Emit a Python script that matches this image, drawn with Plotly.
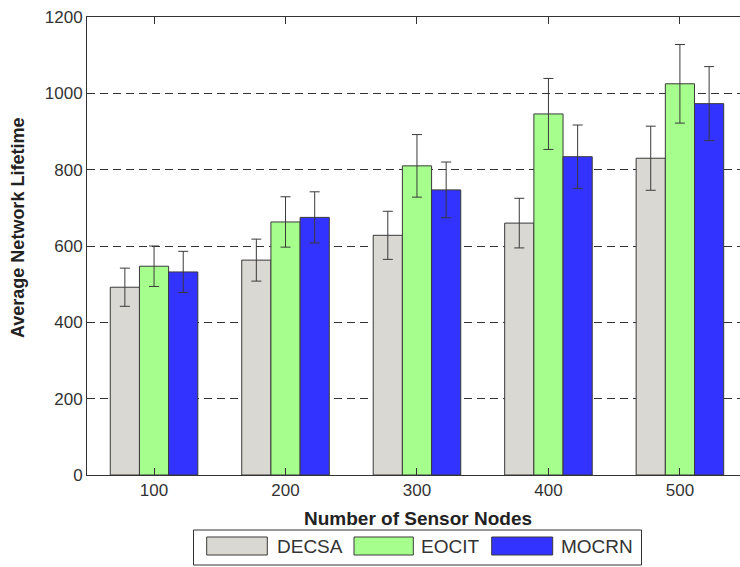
import plotly.graph_objects as go

categories = ["100", "200", "300", "400", "500"]
series_names = ["DECSA", "EOCIT", "MOCRN"]
decsa = [492, 563, 628, 660, 830]
decsa_err = [50, 55, 63, 65, 84]
eocit = [547, 663, 810, 946, 1025]
eocit_err = [53, 66, 82, 93, 103]
mocrn = [532, 675, 747, 834, 973]
mocrn_err = [54, 67, 73, 83, 97]
y_ticks = [0, 200, 400, 600, 800, 1000, 1200]

colors = ["#dad8d2", "#a6ff8c", "#3333ff"]
FONT = "Liberation Sans, Arial, sans-serif"

fig = go.Figure()
for name, vals, errs, col in zip(series_names, [decsa, eocit, mocrn],
                                 [decsa_err, eocit_err, mocrn_err], colors):
    fig.add_trace(go.Bar(
        x=categories, y=vals, name=name,
        marker=dict(color=col, line=dict(color="#3a3a3a", width=1)),
        error_y=dict(type="data", array=errs, visible=True,
                     color="#3a3a3a", thickness=1, width=5),
        showlegend=False,
    ))

W, H = 740, 567
L, T, B = 87, 17, 92
pw = W - L
ph = H - T - B

def px(x):
    return (x - L) / pw

def py(y):
    return (H - B - y) / ph

fig.update_layout(
    width=W, height=H,
    margin=dict(l=L, r=0, t=T, b=B, autoexpand=False),
    paper_bgcolor="white", plot_bgcolor="white",
    barmode="group", bargap=0.334, bargroupgap=0,
    font=dict(family=FONT, size=17, color="#333333"),
    xaxis=dict(
        type="category", range=[-0.51, 4.457],
        showline=True, linecolor="#333333", linewidth=1, mirror="ticks",
        ticks="inside", ticklen=7, tickcolor="#333333",
        showgrid=False, zeroline=False,
        tickfont=dict(size=17, color="#333333"),
    ),
    yaxis=dict(
        range=[0, 1200], tickvals=y_ticks,
        showline=True, linecolor="#333333", linewidth=1, mirror=False,
        ticks="inside", ticklen=6, tickcolor="#333333",
        showgrid=True, gridcolor="#333333", gridwidth=1, griddash="8px,5px",
        zeroline=False,
        tickfont=dict(size=17, color="#333333"),
    ),
)

# axis titles
fig.add_annotation(text="<b>Number of Sensor Nodes</b>", xref="paper", yref="paper",
                   x=px(418), y=py(518), showarrow=False, xanchor="center", yanchor="middle",
                   font=dict(size=19, color="#222222", family=FONT))
fig.add_annotation(text="<b>Average Network Lifetime</b>", xref="paper", yref="paper",
                   x=px(18), y=py(228), showarrow=False, textangle=-90,
                   xanchor="center", yanchor="middle",
                   font=dict(size=18, color="#222222", family=FONT))

# legend box (drawn)
fig.add_shape(type="rect", xref="paper", yref="paper",
              x0=px(193.5), x1=px(641.5), y0=py(530), y1=py(565),
              line=dict(color="#333333", width=1), fillcolor="white", layer="above")
sw = [(206.7, 267.3), (354, 413.3), (491.7, 552.7)]
tx = [275, 419.3, 559.3]
for (a, b), t, name, col in zip(sw, tx, series_names, colors):
    fig.add_shape(type="rect", xref="paper", yref="paper",
                  x0=px(a), x1=px(b), y0=py(537), y1=py(555),
                  line=dict(color="#3a3a3a", width=1), fillcolor=col, layer="above")
    fig.add_annotation(text=name, xref="paper", yref="paper", x=px(t), y=py(546),
                       xanchor="left", yanchor="middle", showarrow=False,
                       font=dict(size=19, color="#333333", family=FONT))

fig.write_html("out.html", config={"displayModeBar": False},
               post_script="document.body.style.margin='0px';document.body.style.overflow='hidden';")
